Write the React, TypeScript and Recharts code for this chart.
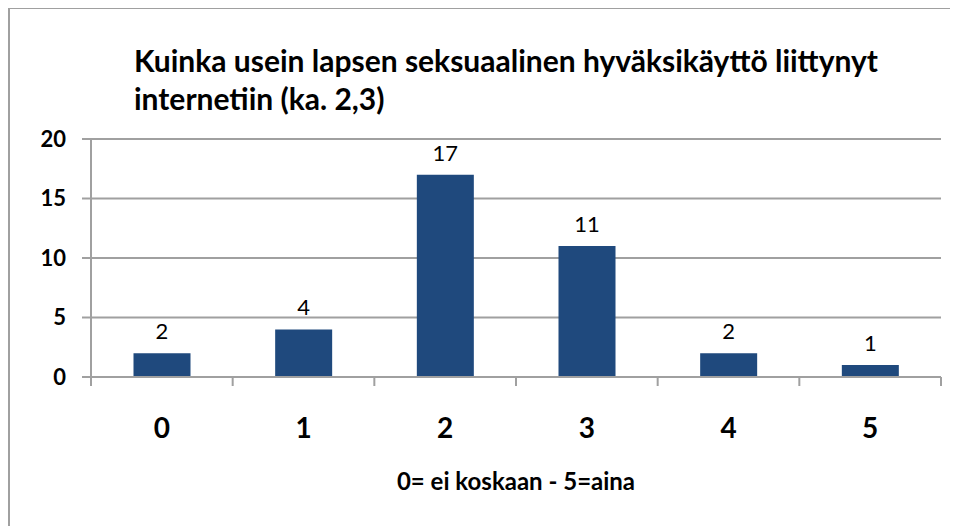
import React from 'react';
import { BarChart, Bar, XAxis, YAxis, CartesianGrid, LabelList, Label } from 'recharts';

const categories = ['0', '1', '2', '3', '4', '5'];
const counts = [2, 4, 17, 11, 2, 1];
const yTicks = [0, 5, 10, 15, 20];
const titleLines = ['Kuinka usein lapsen seksuaalinen hyväksikäyttö liittynyt', 'internetiin (ka. 2,3)'];
const xTitle = '0= ei koskaan - 5=aina';

const data = categories.map((c, i) => ({ name: c, value: counts[i] }));

const font = 'Lato, "Open Sans", sans-serif';
const grey = '#a0a0a0';

// category label plus Excel-style tick marks on the category boundaries
const CategoryTick = (props: any) => {
  const { x, y, payload, index, visibleTicksCount } = props;
  const half = payload && payload.offset ? payload.offset : 0;
  const last = index === (visibleTicksCount ?? categories.length) - 1;
  return (
    <g>
      <line x1={x - half} x2={x - half} y1={y} y2={y + 9} stroke={grey} strokeWidth={2} />
      {last && <line x1={x + half} x2={x + half} y1={y} y2={y + 9} stroke={grey} strokeWidth={2} />}
      <text
        x={x}
        y={y + 61}
        textAnchor="middle"
        fill="#000"
        fontSize={28}
        fontWeight={700}
        fontFamily={font}
      >
        {payload.value}
      </text>
    </g>
  );
};

export default function App() {
  return (
    <div
      style={{
        position: 'relative',
        width: 948,
        height: 517,
        marginTop: -1,
        borderTop: `2px solid ${grey}`,
        borderLeft: `2px solid ${grey}`,
        fontFamily: font,
        background: '#fff',
      }}
    >
      <div
        style={{
          position: 'absolute',
          left: 124,
          top: 32,
          fontSize: 30,
          fontWeight: 700,
          lineHeight: '38px',
          color: '#000',
          whiteSpace: 'nowrap',
        }}
      >
        {titleLines.map((t) => (
          <div key={t}>{t}</div>
        ))}
      </div>
      <BarChart
        width={948}
        height={517}
        data={data}
        margin={{ top: 130, right: 17, left: 0, bottom: 0 }}
        barCategoryGap="30%"
      >
        <CartesianGrid vertical={false} stroke={grey} strokeWidth={2} />
        <YAxis
          domain={[0, 20]}
          ticks={yTicks}
          width={81}
          axisLine={{ stroke: grey, strokeWidth: 2 }}
          tickLine={{ stroke: grey, strokeWidth: 2 }}
          tickSize={9}
          tickMargin={16}
          tick={{ fill: '#000', fontSize: 22, fontWeight: 700, fontFamily: font }}
        />
        <XAxis
          dataKey="name"
          height={149}
          axisLine={{ stroke: grey, strokeWidth: 2 }}
          tickLine={false}
          tickSize={0}
          tickMargin={0}
          interval={0}
          tick={<CategoryTick />}
        >
          <Label
            value={xTitle}
            position="insideBottom"
            offset={36}
            style={{ fill: '#000', fontSize: 24, fontWeight: 700, fontFamily: font }}
          />
        </XAxis>
        <Bar dataKey="value" fill="#1F497D" isAnimationActive={false}>
          <LabelList
            dataKey="value"
            position="top"
            offset={14}
            style={{ fill: '#000', fontSize: 22, fontFamily: font }}
          />
        </Bar>
      </BarChart>
    </div>
  );
}
